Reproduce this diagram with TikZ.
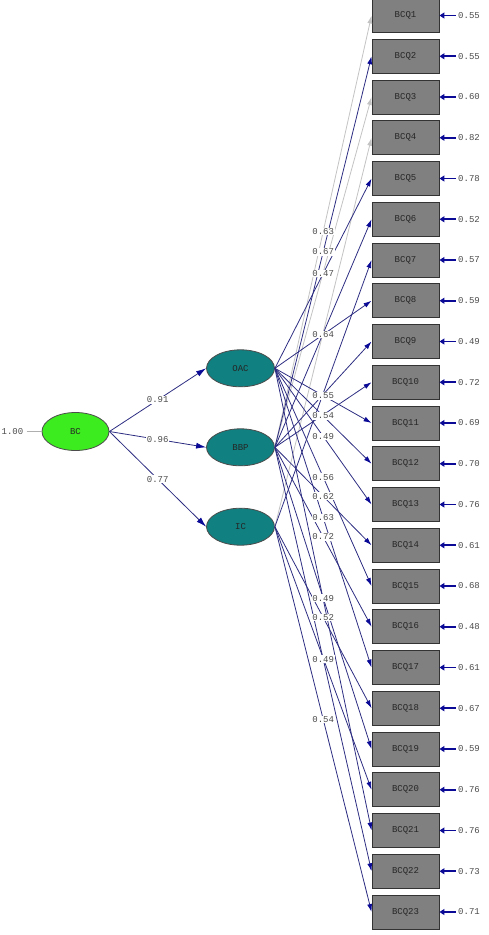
\documentclass[tikz,border=0pt]{standalone}
\usepackage{fontspec}
\setmainfont{Liberation Mono}
\usetikzlibrary{arrows.meta,shapes.geometric}
\definecolor{boxgray}{RGB}{128,128,128}
\definecolor{latteal}{RGB}{16,128,128}
\definecolor{bcgreen}{RGB}{60,236,30}
\definecolor{pathblue}{RGB}{45,45,130}
\definecolor{headblue}{RGB}{10,10,150}
\definecolor{lightpath}{RGB}{195,195,195}
\definecolor{labgray}{RGB}{75,75,75}
\tikzset{
  obs/.style={draw=black!80, fill=boxgray, line width=0.9pt, minimum width=67pt, minimum height=34pt, inner sep=0pt, font=\fontsize{9}{9}\selectfont, text=black!85},
  lat/.style={ellipse, draw=black!70, line width=0.8pt, fill=latteal, minimum width=68pt, minimum height=37pt, inner sep=0pt, font=\fontsize{9}{9}\selectfont, text=black!85},
  loadpath/.style={draw=pathblue, line width=0.8pt, -{Latex[length=8pt,width=5pt,color=headblue]}},
  fixedpath/.style={draw=lightpath, line width=0.8pt, -{Latex[length=8pt,width=5pt,color=lightpath]}},
  lab/.style={fill=white, inner sep=0.8pt, font=\fontsize{9}{9}\selectfont, text=labgray},
  errlab/.style={inner sep=0pt, anchor=west, font=\fontsize{9}{9}\selectfont, text=labgray},
  errarrow/.style={draw=headblue, line width=1.6pt, shorten <=2.5pt, -{Triangle[length=5pt,width=6pt]}}
}
\begin{document}
\begin{tikzpicture}[x=1pt,y=-1pt]
\useasboundingbox (0,0) rectangle (488,935);
% observed variables
\foreach \i/\e in {1/0.55,2/0.55,3/0.60,4/0.82,5/0.78,6/0.52,7/0.57,8/0.59,9/0.49,10/0.72,11/0.69,12/0.70,13/0.76,14/0.61,15/0.68,16/0.48,17/0.61,18/0.67,19/0.59,20/0.76,21/0.76,22/0.73,23/0.71}{
  \node[obs] (b\i) at (405.5,{15.5+40.75*(\i-1)}) {BCQ\i};
  \node[errlab] (e\i) at (458,{15.5+40.75*(\i-1)}) {\e};
  \draw[errarrow] (e\i.west) -- (b\i.east);
}
% latent variables
\node[lat, fill=bcgreen, minimum width=67pt, minimum height=38pt] (bc) at (75.5,431.5) {BC};
\node[lat] (oac) at (240.5,368.3) {OAC};
\node[lat] (bbp) at (240.5,447.3) {BBP};
\node[lat] (ic)  at (240.5,526.7) {IC};
\node[errlab, anchor=east] (bcv) at (23.5,431.5) {1.00};
\draw[lightpath!70!gray, line width=0.7pt] (bcv.east) ++(3pt,0) -- (bc.west);
% second-order paths
\draw[loadpath, -{Latex[length=10pt,width=6pt,color=headblue]}] (bc.east) -- (oac.west);
\draw[loadpath, -{Latex[length=10pt,width=6pt,color=headblue]}] (bc.east) -- (bbp.west);
\draw[loadpath, -{Latex[length=10pt,width=6pt,color=headblue]}] (bc.east) -- (ic.west);
% first-order paths
\foreach \s/\t/\st in {bbp/1/fixedpath, bbp/3/fixedpath, ic/4/fixedpath,
  bbp/2/loadpath, oac/5/loadpath, bbp/6/loadpath, ic/7/loadpath, oac/8/loadpath,
  bbp/9/loadpath, bbp/10/loadpath, oac/11/loadpath, oac/12/loadpath, oac/13/loadpath,
  bbp/14/loadpath, oac/15/loadpath, bbp/16/loadpath, oac/17/loadpath, ic/18/loadpath,
  bbp/19/loadpath, ic/20/loadpath, oac/21/loadpath, bbp/22/loadpath, ic/23/loadpath}{
  \draw[\st] (\s.east) -- (b\t.west);
}
% labels
\path (bc.east) -- (oac.west) node[lab, pos=0.5] {0.91};
\path (bc.east) -- (bbp.west) node[lab, pos=0.5] {0.96};
\path (bc.east) -- (ic.west) node[lab, pos=0.5] {0.77};
\foreach \s/\t/\l in {bbp/1/0.63, bbp/2/0.67, oac/5/0.47, oac/8/0.64, oac/11/0.55,
  oac/12/0.54, oac/13/0.49, oac/15/0.56, bbp/14/0.62, oac/17/0.63, bbp/16/0.72,
  bbp/19/0.49, ic/18/0.52, bbp/22/0.49, ic/23/0.54}{
  \path (\s.east) -- (b\t.west) node[lab, pos=0.5] {\l};
}
\end{tikzpicture}
\end{document}
